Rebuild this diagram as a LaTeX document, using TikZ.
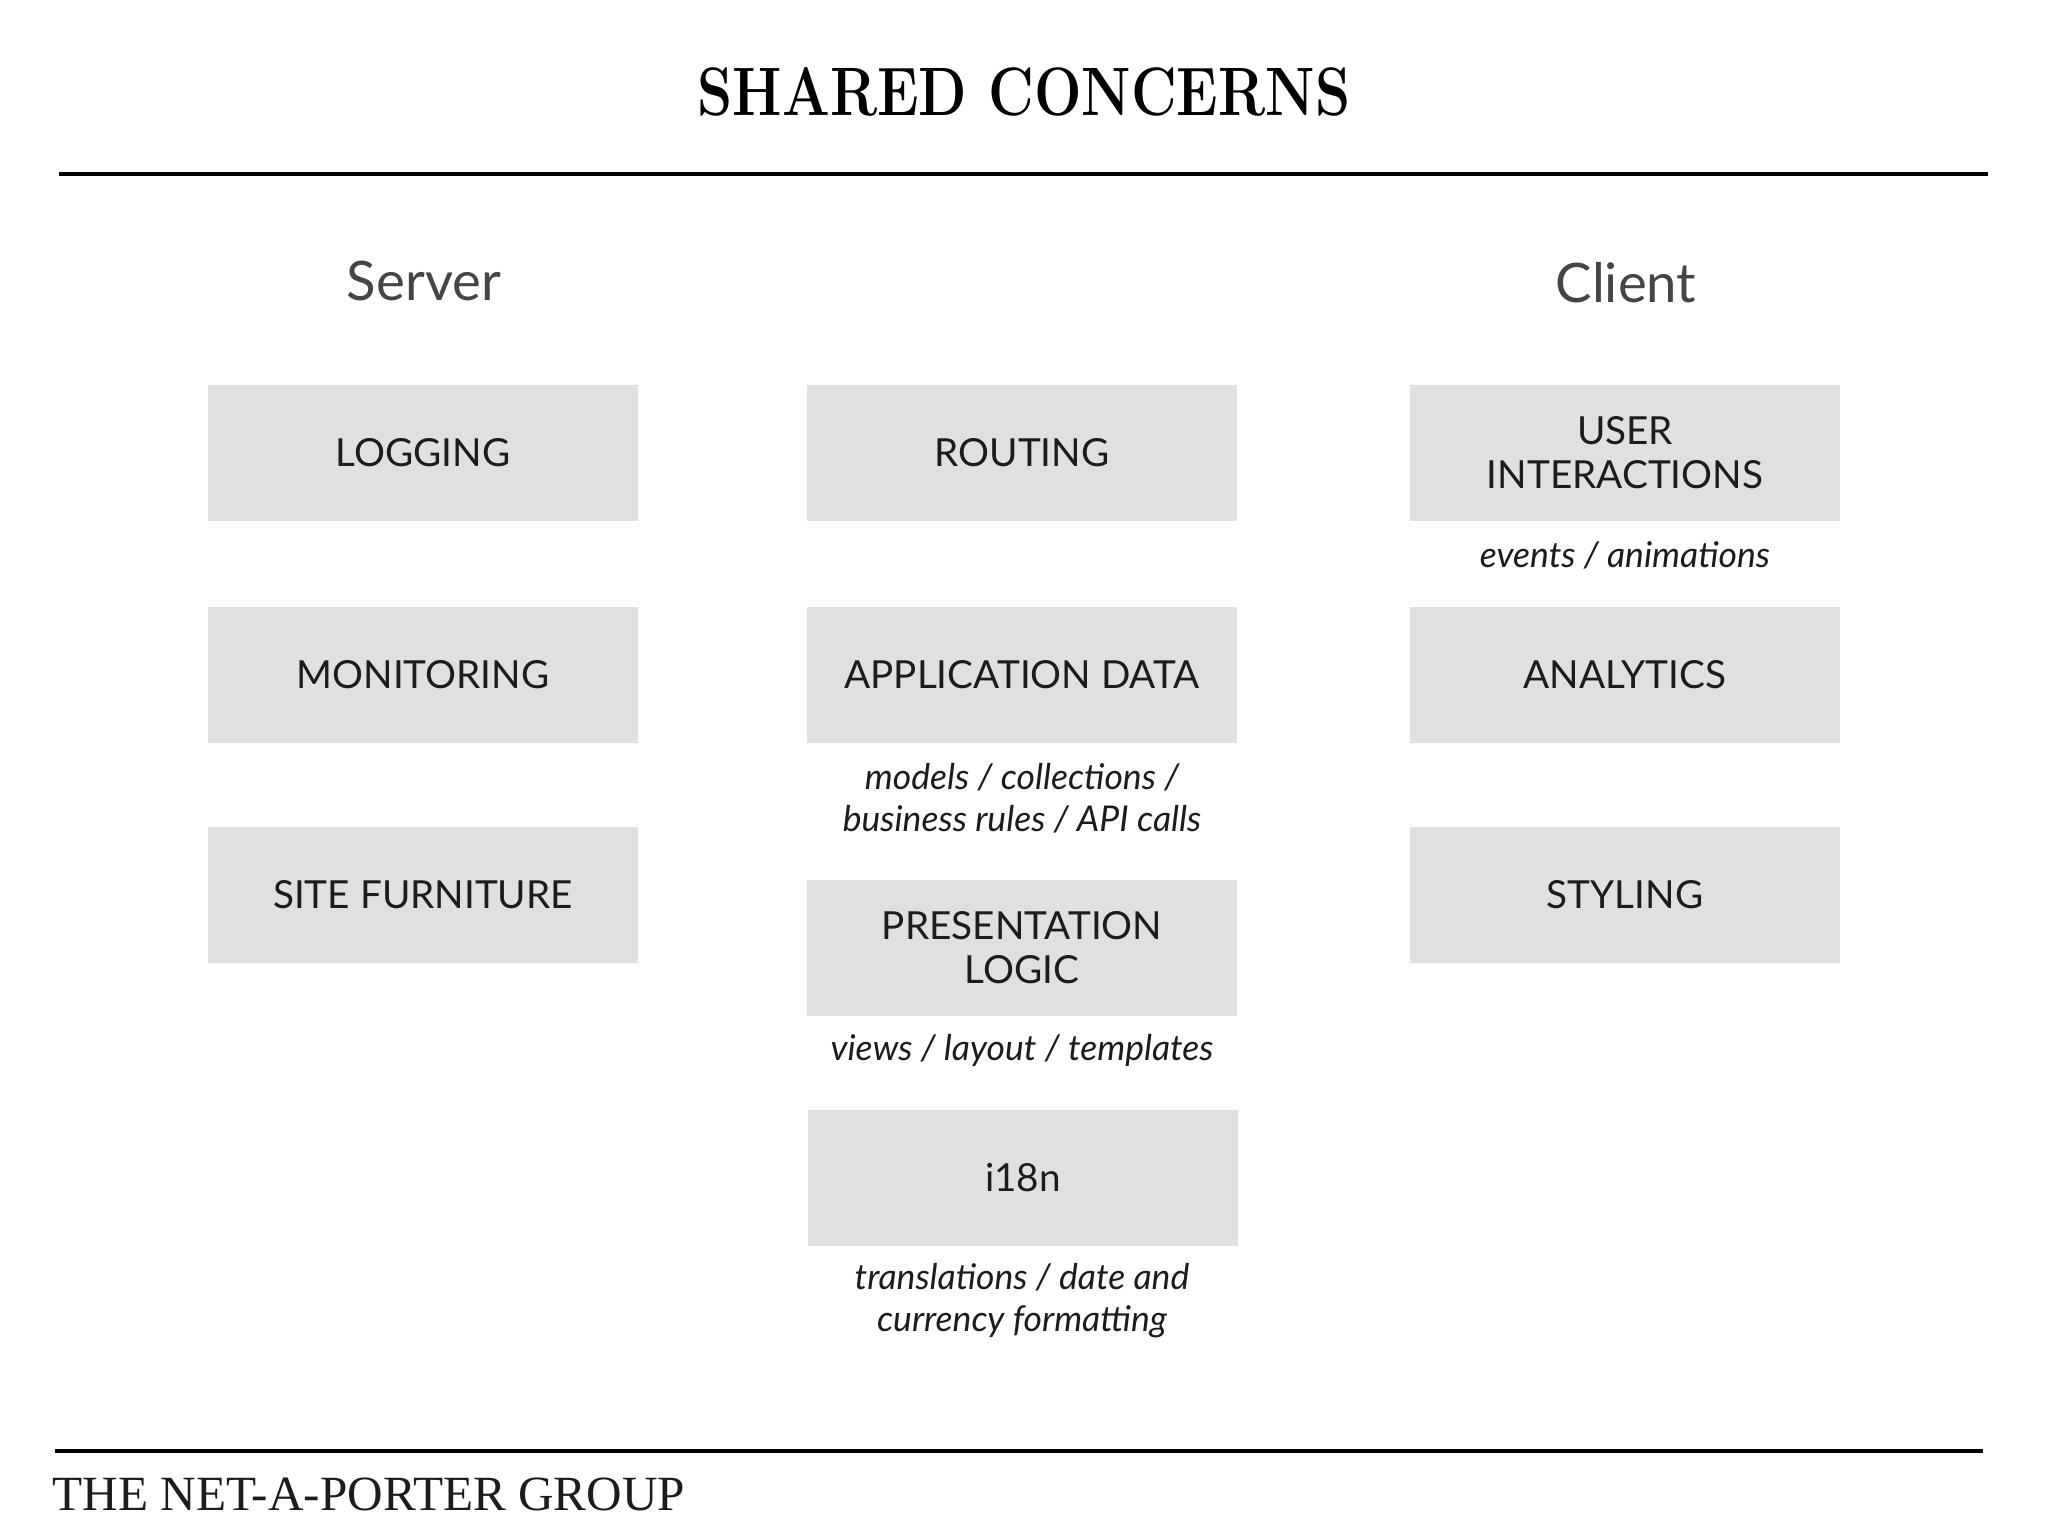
\documentclass[tikz,border=0pt]{standalone}
\usepackage{fontspec}
\usepackage{graphicx}
\setmainfont{Lato}
\newfontfamily\titlefont{Latin Modern Roman}
\newfontfamily\footfont{Liberation Serif}
\usetikzlibrary{positioning}
\definecolor{cbox}{HTML}{E0E0E0}
\definecolor{cink}{HTML}{1C1C1C}
\definecolor{cside}{HTML}{454545}

\begin{document}
\begin{tikzpicture}[x=0.01cm, y=-0.01cm]
    \tikzset{
        concern/.style={rectangle, fill=cbox, minimum width=4.3cm, minimum height=1.36cm, align=center, text=cink, font=\fontsize{11}{12.5}\selectfont, inner sep=0pt},
        note/.style={align=center, text=cink, font=\fontsize{10.1}{12}\selectfont\itshape, inner sep=0pt},
        side/.style={text=cside, font=\fontsize{15.5}{18}\selectfont, inner sep=0pt},
        heading/.style={font=\titlefont\bfseries\fontsize{19.5}{22}\selectfont, inner sep=0pt},
        brand/.style={font=\footfont\fontsize{14}{16}\selectfont, text=cink, inner sep=0pt},
        rule/.style={draw, line width=1pt, black}
    }
    \useasboundingbox (0,0) rectangle (2048,1536);

    \node[heading, anchor=base] (title) at (1024,115) {\scalebox{0.82}[1]{SHARED CONCERNS}};
    \coordinate (top_w) at (59,174);
    \coordinate (top_e) at (1988,174);
    \path[rule] (top_w) -- (top_e);

    \node[side, anchor=base] (server) at (424,300) {Server};
    \node[side, anchor=base] (client) at (1626,302) {Client};

    \node[concern] (logging) at (423,453) {LOGGING};
    \node[concern] (monitoring) at (423,675) {MONITORING};
    \node[concern] (furniture) at (423,895) {SITE FURNITURE};

    \node[concern] (routing) at (1022,453) {ROUTING};
    \node[concern] (appdata) at (1022,675) {APPLICATION DATA};
    \node[concern] (presentation) at (1022,948) {PRESENTATION\\LOGIC};
    \node[concern] (i18n) at (1023,1178) {i18n};

    \node[concern] (interactions) at (1625,453) {USER\\INTERACTIONS};
    \node[concern] (analytics) at (1625,675) {ANALYTICS};
    \node[concern] (styling) at (1625,895) {STYLING};

    \node[note] (interactions_note) at (1625,555) {events / animations};
    \node[note] (appdata_note) at (1022,798) {models / collections /\\business rules / API calls};
    \node[note] (presentation_note) at (1022,1050) {views / layout / templates};
    \node[note] (i18n_note) at (1022,1301) {translations / date and\\currency formatting};

    \coordinate (foot_w) at (55,1451);
    \coordinate (foot_e) at (1983,1451);
    \path[rule] (foot_w) -- (foot_e);
    \node[brand, anchor=base west] (group) at (52,1510) {THE NET-A-PORTER GROUP};
\end{tikzpicture}
\end{document}
